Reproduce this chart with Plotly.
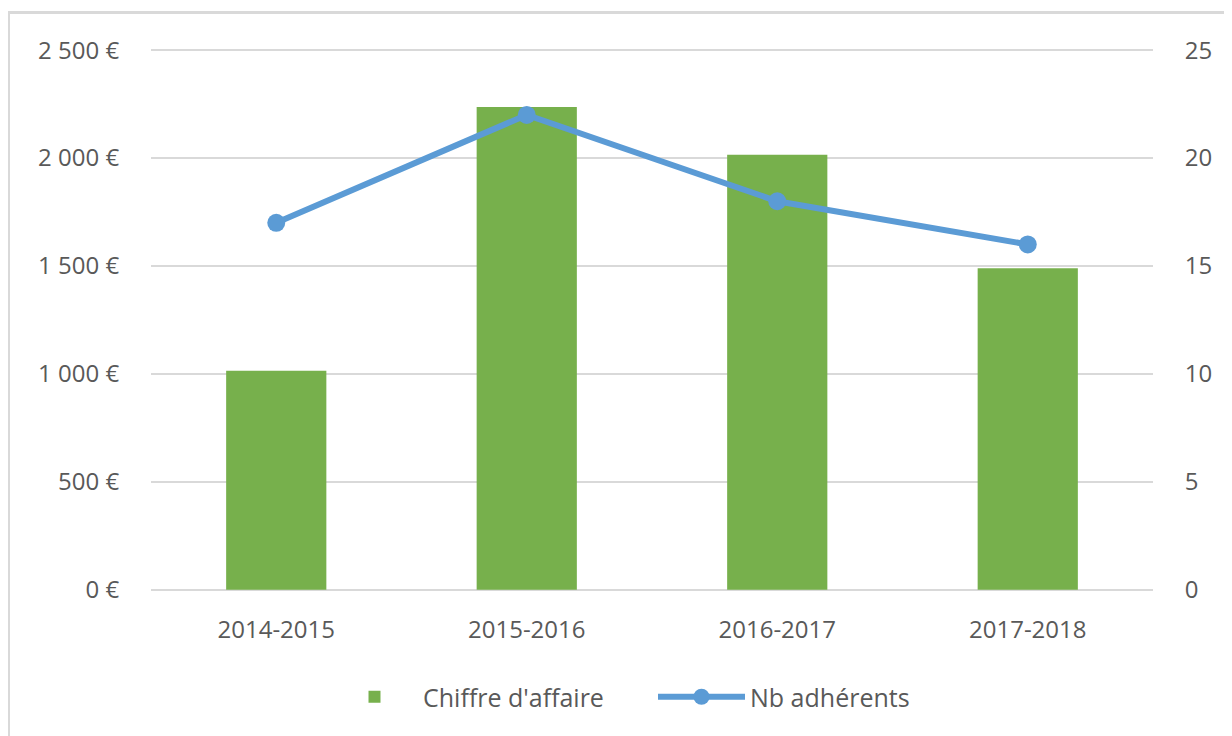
import plotly.graph_objects as go

# Data
categories = ["2014-2015", "2015-2016", "2016-2017", "2017-2018"]
chiffre_affaire = [1015, 2237, 2016, 1490]
nb_adherents = [17, 22, 18, 16]
left_ticks = [0, 500, 1000, 1500, 2000, 2500]
right_ticks = [0, 5, 10, 15, 20, 25]

def euro(v):
    s = f"{v:,}".replace(",", " ")
    return f"{s} €"

left_labels = [euro(v) for v in left_ticks]

OFF = 8  # page body margin
W, H = 1224, 728
L, R, T, B = 143, 79, 40, 146
pw, ph = W - L - R, H - T - B

def px_x(p):
    return (p - OFF - L) / pw

def px_y(p):
    return (H - B - (p - OFF)) / ph

font_family = "Open Sans, Lato, sans-serif"
txt = "#595959"
grid = "#d9d9d9"
FS = 24

fig = go.Figure()
fig.add_trace(go.Bar(
    x=categories, y=chiffre_affaire, name="Chiffre d'affaire",
    marker=dict(color="#77B04C", line=dict(width=0)),
    yaxis="y",
))
fig.add_trace(go.Scatter(
    x=categories, y=nb_adherents, name="Nb adhérents",
    mode="lines+markers",
    line=dict(color="#5B9BD5", width=6),
    marker=dict(color="#5B9BD5", size=18),
    yaxis="y2",
))

fig.update_layout(
    width=W, height=H,
    margin=dict(l=L, r=R, t=T, b=B, autoexpand=False),
    paper_bgcolor="white", plot_bgcolor="white",
    font=dict(family=font_family, size=FS, color=txt),
    bargap=0.6,
    showlegend=True,
    legend=dict(
        orientation="h", x=px_x(326), xanchor="left",
        y=px_y(697), yanchor="middle",
        font=dict(size=25, color=txt),
        itemwidth=87, entrywidth=225, entrywidthmode="pixels",
        traceorder="normal",
        bgcolor="rgba(0,0,0,0)",
    ),
    xaxis=dict(
        type="category", showgrid=False, zeroline=False,
        showline=False, ticks="outside", ticklen=18, tickcolor="rgba(0,0,0,0)",
        tickfont=dict(size=FS, color=txt),
        fixedrange=True,
    ),
    yaxis=dict(
        range=[-1, 2510], tickvals=left_ticks, ticktext=left_labels,
        showgrid=True, gridcolor=grid, gridwidth=2,
        zeroline=True, zerolinecolor=grid, zerolinewidth=2, showline=False,
        ticks="outside", ticklen=26, tickcolor="rgba(0,0,0,0)",
        tickfont=dict(size=FS, color=txt),
    ),
    yaxis2=dict(
        range=[-0.01, 25.10], tickvals=right_ticks,
        overlaying="y", side="right",
        showgrid=False, zeroline=False, showline=False,
        ticks="outside", ticklen=26, tickcolor="rgba(0,0,0,0)",
        tickfont=dict(size=FS, color=txt),
    ),
    shapes=[dict(
        type="rect", xref="paper", yref="paper",
        x0=px_x(8.5), x1=px_x(1229), y0=px_y(760), y1=px_y(12.5),
        line=dict(color="#d9d9d9", width=3), fillcolor="rgba(0,0,0,0)",
        layer="below",
    )],
)

fig.write_html("out.html")
